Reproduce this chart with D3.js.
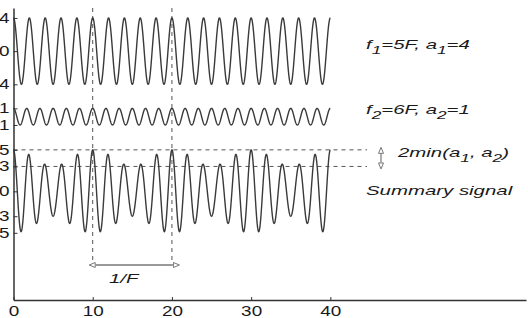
<!DOCTYPE html>
<html>
<head>
<meta charset="utf-8">
<script src="https://cdn.jsdelivr.net/npm/d3@7"></script>
<style>
  body { margin: 0; background: #fff; }
  svg { display: block; }
  text { font-family: "Liberation Sans", Arial, sans-serif; fill: #1a1a1a; }
</style>
</head>
<body>
<svg class="chart" width="528" height="318"></svg>
<script>
// signal parameters (F = 1/10)
var F = 0.1;
var freqMult = [5, 6];
var amps = [4, 1];
var tStart = 0, tEnd = 40;

// vertical offsets of the three traces
var offsets = [0, -7.9, -16.9];

// custom y ticks: value relative to trace + offset index
var yTickRel = [4, 0, -4, 1, -1, 5, 3, 0, -3, -5];
var yTickTrace = [0, 0, 0, 1, 1, 2, 2, 2, 2, 2];
var yTickLabels = ["4", "0", "4", "1", "1", "5", "3", "0", "3", "5"];

var xTicks = [0, 10, 20, 30, 40];
var markX = [10, 20];

var svg = d3.select(".chart");
var x = d3.scaleLinear().domain([0, 64.7]).range([13.5, 526]);
var y = d3.scaleLinear().domain([-30, 5.2]).range([300, 8]);

var ts = d3.range(tStart, tEnd + 0.0001, 0.02);
var s1 = function(t) { return amps[0] * Math.cos(2 * Math.PI * freqMult[0] * F * t); };
var s2 = function(t) { return amps[1] * Math.cos(2 * Math.PI * freqMult[1] * F * t); };
var traces = [s1, s2, function(t) { return s1(t) + s2(t); }];

var line = d3.line();

// dashed guides
var gd = svg.append("g").attr("stroke", "#555").attr("stroke-width", 1).attr("stroke-dasharray", "4,4").attr("fill", "none");
markX.forEach(function(v) {
  gd.append("line").attr("x1", x(v)).attr("x2", x(v)).attr("y1", y.range()[1]).attr("y2", 262);
});
[5, 3].forEach(function(v) {
  gd.append("line").attr("x1", x(0)).attr("x2", 367).attr("y1", y(offsets[2] + v)).attr("y2", y(offsets[2] + v));
});

// traces
traces.forEach(function(fn, i) {
  svg.append("path")
    .attr("d", line(ts.map(function(t) { return [x(t), y(offsets[i] + fn(t))]; })))
    .attr("fill", "none").attr("stroke", "#3a3a3a").attr("stroke-width", 1.4);
});

// axes
var xAxis = svg.append("g").attr("transform", "translate(0," + y.range()[0] + ")")
  .call(d3.axisBottom(x).tickValues(xTicks).tickSizeInner(-3).tickSizeOuter(0).tickPadding(6));
xAxis.selectAll("text").attr("font-size", 14).attr("transform", "scale(1.35,1)");

var yAxis = svg.append("g").attr("transform", "translate(" + x.range()[0] + ",0)")
  .call(d3.axisLeft(y)
    .tickValues(yTickRel.map(function(v, i) { return offsets[yTickTrace[i]] + v; }))
    .tickFormat(function(d, i) { return yTickLabels[i]; })
    .tickSizeInner(-4).tickSizeOuter(0).tickPadding(3));
yAxis.selectAll("text").attr("font-size", 14).attr("transform", "scale(1.35,1)");

svg.selectAll(".domain").attr("stroke", "#333").attr("stroke-width", 1.5);
svg.selectAll(".tick line").attr("stroke", "#333");
svg.selectAll(".tick text").attr("fill", "#1a1a1a").attr("font-family", "Liberation Sans, Arial, sans-serif");

// arrow heads
var defs = svg.append("defs");
defs.append("marker").attr("id", "head").attr("viewBox", "0 0 7 6")
  .attr("refX", 0).attr("refY", 3).attr("markerWidth", 7).attr("markerHeight", 6)
  .attr("markerUnits", "userSpaceOnUse").attr("orient", "auto-start-reverse")
  .append("path").attr("d", "M0.5,0.5 L6.5,3 L0.5,5.5 Z").attr("fill", "#fff").attr("stroke", "#777").attr("stroke-width", 1);

svg.append("line").attr("x1", x(markX[0]) + 3).attr("x2", x(markX[1]) + 1).attr("y1", 265).attr("y2", 265)
  .attr("stroke", "#777").attr("stroke-width", 1.5)
  .attr("marker-start", "url(#head)").attr("marker-end", "url(#head)");

svg.append("line").attr("x1", 381).attr("x2", 381)
  .attr("y1", y(offsets[2] + 5) + 4).attr("y2", y(offsets[2] + 3) - 4)
  .attr("stroke", "#777").attr("stroke-width", 1.2)
  .attr("marker-start", "url(#head)").attr("marker-end", "url(#head)");

// annotations (text with subscripts)
var label = function(px, py, parts) {
  var t = svg.append("text").attr("transform", "translate(" + px + "," + py + ") scale(1.5,1)")
    .attr("font-size", 13.6).attr("font-style", "italic");
  var shift = 0;
  parts.forEach(function(p) {
    if (p.sub) {
      t.append("tspan").attr("font-size", 11.5).attr("dy", 5 - shift).text(p.sub);
      shift = 5;
    } else {
      t.append("tspan").attr("dy", -shift).text(p.s);
      shift = 0;
    }
  });
};
label(366, 49, [{s: "f"}, {sub: "1"}, {s: "=5F,  a"}, {sub: "1"}, {s: "=4"}]);
label(366, 114, [{s: "f"}, {sub: "2"}, {s: "=6F,  a"}, {sub: "2"}, {s: "=1"}]);
label(398, 157, [{s: "2min(a"}, {sub: "1"}, {s: ", a"}, {sub: "2"}, {s: ")"}]);
label(366, 195, [{s: "Summary signal"}]);
svg.append("text").attr("transform", "translate(109,283) scale(1.5,1)")
  .attr("font-size", 13.6).attr("font-style", "italic").text("1/F");
</script>
</body>
</html>
